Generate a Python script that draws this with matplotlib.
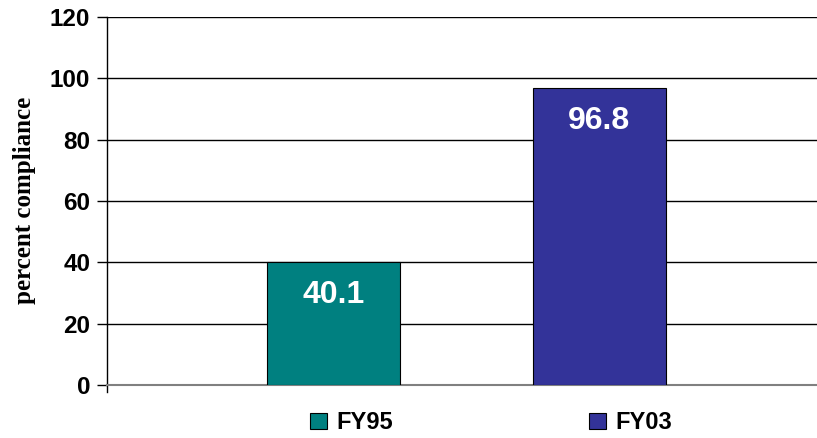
import matplotlib.pyplot as plt
from matplotlib.patches import Patch

years = ["FY95", "FY03"]
compliance = [40.1, 96.8]
colors = ["#008080", "#333399"]
yticks = [0, 20, 40, 60, 80, 100, 120]

fig = plt.figure(figsize=(8.17, 4.38), dpi=100)
ax = fig.add_axes([0.131, 0.121, 0.869, 0.840])

x = list(range(len(years)))
ax.bar(x, compliance, width=0.5, color=colors, edgecolor="black", linewidth=0.8, zorder=3)

# gridlines
for t in yticks:
    ax.axhline(t, color="black", linewidth=1.0, zorder=1)

for xi, v in zip(x, compliance):
    ax.annotate(f"{v}", (xi, v), xytext=(0, -33), textcoords="offset pixels",
                ha="center", va="center", color="white", fontsize=23,
                fontweight="bold", family="Liberation Sans", zorder=4)

ax.set_xlim(-0.851, 1.818)
ax.set_ylim(0, 120)
ax.set_yticks(yticks)
ax.set_yticklabels([str(t) for t in yticks], fontsize=17.5, fontweight="bold",
                   family="Liberation Sans")
ax.tick_params(axis="y", length=7, width=1, pad=5)
ax.set_xticks([])
for s in ["top", "right"]:
    ax.spines[s].set_visible(False)
ax.spines["left"].set_linewidth(1)
ax.spines["bottom"].set_color("#808080")
ax.spines["bottom"].set_linewidth(1.5)
ax.spines["left"].set_bounds(-2.2, 120)

fig.text(25 / 817, 1 - 200 / 438, "percent compliance", rotation=90, ha="center",
         va="center", fontsize=18, fontweight="bold", family="Liberation Serif")

handles = [Patch(facecolor=c, edgecolor="black", linewidth=0.8) for c in colors]
fig.legend(handles, years, loc="center", bbox_to_anchor=(0.601, 0.035), ncol=2,
           frameon=False, handlelength=0.72, handleheight=0.72, handletextpad=0.4,
           columnspacing=8.3, prop={"family": "Liberation Sans", "weight": "bold", "size": 17})

fig.savefig("out.png", dpi=100)
